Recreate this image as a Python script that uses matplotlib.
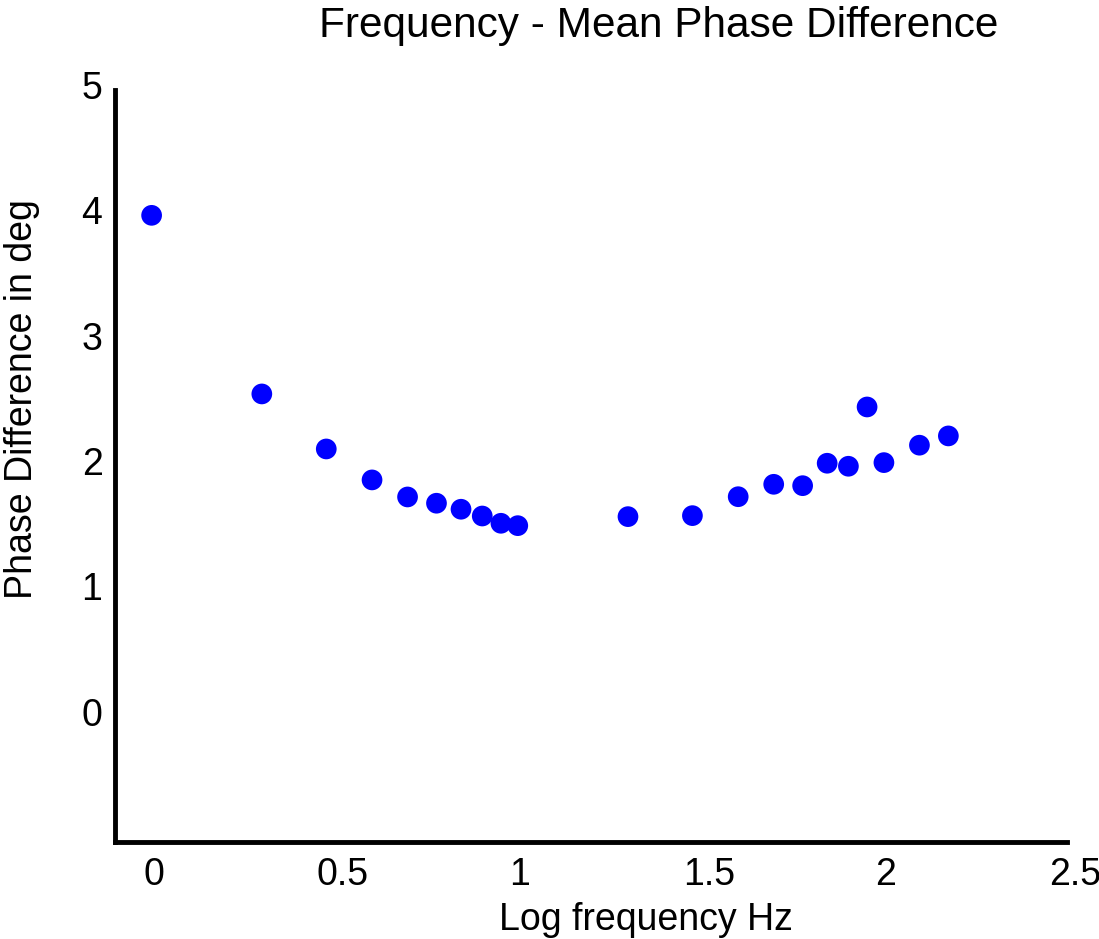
import matplotlib
matplotlib.use("Agg")
import matplotlib.pyplot as plt
from matplotlib.transforms import ScaledTranslation

# ── Data ──────────────────────────────────────────────────────────────────────
log_freq = [0.0, 0.301, 0.477, 0.602, 0.699, 0.778, 0.845, 0.903, 0.954, 1.0,
            1.301, 1.477, 1.602, 1.699, 1.778, 1.845, 1.903, 1.954, 2.0,
            2.097, 2.176]
phase_diff = [4.00, 2.575, 2.136, 1.889, 1.753, 1.703, 1.655, 1.601, 1.543, 1.524,
              1.596, 1.604, 1.755, 1.854, 1.843, 2.022, 1.998, 2.471, 2.027,
              2.166, 2.240]

x_ticks = [0, 0.5, 1, 1.5, 2, 2.5]
x_tick_labels = ["0", "0.5", "1", "1.5", "2", "2.5"]
y_ticks = [0, 1, 2, 3, 4, 5]
y_tick_labels = ["0", "1", "2", "3", "4", "5"]

plt.rcParams["font.family"] = ["Liberation Sans", "DejaVu Sans"]

W, H = 1099, 939
fig = plt.figure(figsize=(W / 100, H / 100), dpi=100)
ax = fig.add_axes([115 / W, (H - 842) / H, (1067 - 115) / W, (842 - 90) / H])

ax.scatter(log_freq, phase_diff, s=222, color="#0000ff", edgecolors="none",
           zorder=3, clip_on=False)

ax.set_xlim(-0.1, 2.5)
ax.set_ylim(-1, 5)
ax.set_xticks(x_ticks)
ax.set_xticklabels(x_tick_labels)
ax.set_yticks(y_ticks)
ax.set_yticklabels(y_tick_labels)
ax.tick_params(axis="both", length=0, labelsize=27)
ax.tick_params(axis="x", pad=11)
ax.tick_params(axis="y", pad=9)

# the reference nudges its tick labels a few pixels off the tick positions
for lbl in ax.get_xticklabels():
    dx = 2 if len(lbl.get_text()) == 1 else 8
    lbl.set_transform(lbl.get_transform() + ScaledTranslation(dx / 100, 0, fig.dpi_scale_trans))
for lbl in ax.get_yticklabels():
    lbl.set_transform(lbl.get_transform() + ScaledTranslation(0, 5 / 100, fig.dpi_scale_trans))

for side in ("top", "right"):
    ax.spines[side].set_visible(False)
for side in ("left", "bottom"):
    ax.spines[side].set_linewidth(3.5)
    ax.spines[side].set_color("black")

fig.text(659 / W, 1 - 37 / H, "Frequency - Mean Phase Difference",
         ha="center", va="baseline", fontsize=30.5)
fig.text(646 / W, 1 - 930 / H, "Log frequency Hz",
         ha="center", va="baseline", fontsize=27)
fig.text(22 / W, 1 - 399 / H, "Phase Difference in deg",
         ha="center", va="center", rotation=90, fontsize=27)

fig.savefig("out.png", dpi=100)
